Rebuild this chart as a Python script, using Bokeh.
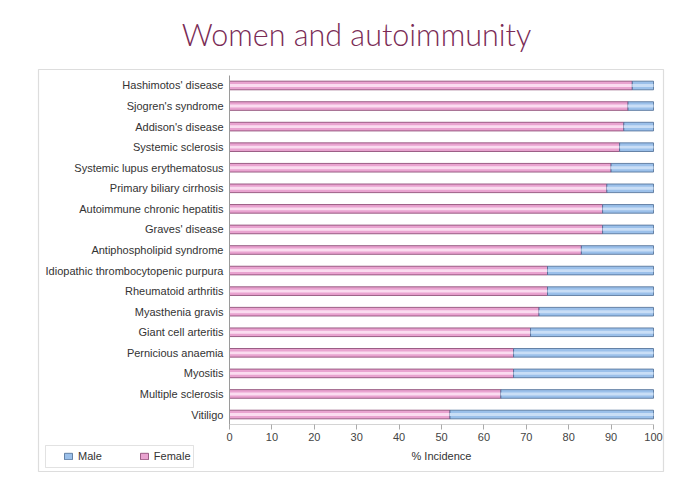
from bokeh.plotting import figure
from bokeh.models import (Range1d, FixedTicker, Label, BoxAnnotation, LinearAxis,
                          Legend, LegendItem, ColumnDataSource)
from bokeh.embed import file_html
from bokeh.resources import INLINE

diseases = [
    "Hashimotos' disease",
    "Sjogren's syndrome",
    "Addison's disease",
    "Systemic sclerosis",
    "Systemic lupus erythematosus",
    "Primary biliary cirrhosis",
    "Autoimmune chronic hepatitis",
    "Graves' disease",
    "Antiphospholipid syndrome",
    "Idiopathic thrombocytopenic purpura",
    "Rheumatoid arthritis",
    "Myasthenia gravis",
    "Giant cell arteritis",
    "Pernicious anaemia",
    "Myositis",
    "Multiple sclerosis",
    "Vitiligo",
]
female = [95, 94, 93, 92, 90, 89, 88, 88, 83, 75, 75, 73, 71, 67, 67, 64, 52]
male = [5, 6, 7, 8, 10, 11, 12, 12, 17, 25, 25, 27, 29, 33, 33, 36, 48]
x_ticks = [0, 10, 20, 30, 40, 50, 60, 70, 80, 90, 100]
title_text = "Women and autoimmunity"
x_title = "% Incidence"
series_names = ["Male", "Female"]

# ---- layout (pixels of the 680x479 canvas, y from top) ----
W, H = 680, 479
AX_L, AX_R = 229.0, 653.0        # x = 0 .. 100
AX_T, AX_B = 74.7, 424.3         # category band top .. bottom
n = len(diseases)
xs = (AX_R - AX_L) / 100.0
ys = (AX_B - AX_T) / n

def px_x(px):
    return (px - AX_L) / xs

def px_y(py):
    return (AX_B - py) / ys - 0.5

ypos = [n - 1 - i for i in range(n)]

src = ColumnDataSource(dict(
    y=ypos,
    female=female,
    male_left=female,
    male_right=[f + m for f, m in zip(female, male)],
    zero=[0] * n,
))

p = figure(width=W, height=H, output_backend="svg", toolbar_location=None,
           x_range=Range1d(px_x(0), px_x(W)), y_range=Range1d(px_y(H), px_y(0)),
           x_axis_location=None, y_axis_location=None,
           min_border=0, min_border_left=0, min_border_right=0,
           min_border_top=0, min_border_bottom=0)
p.outline_line_color = None
p.background_fill_color = "white"
p.border_fill_color = "white"
p.xgrid.grid_line_color = None
p.ygrid.grid_line_color = None

lab_font = "Liberation Sans"

# outer chart box
p.add_layout(BoxAnnotation(left=px_x(38), right=px_x(663), bottom=px_y(471), top=px_y(69),
                           fill_color=None, line_color="#8f8f8f", line_width=1.2,
                           level="underlay"))

# Female bars
rf = p.hbar(y="y", left="zero", right="female", height=0.42, source=src,
            fill_color="#e9a3d0", line_color="#84406c", line_width=0.8)
p.hbar(y="y", left="zero", right="female", height=0.14, source=src,
       fill_color="#fbdcf0", line_color=None)
# Male bars
rm = p.hbar(y="y", left="male_left", right="male_right", height=0.42, source=src,
            fill_color="#9bc0ea", line_color="#4a6a92", line_width=0.8)
p.hbar(y="y", left="male_left", right="male_right", height=0.14, source=src,
       fill_color="#c9def6", line_color=None)

# x axis, drawn at the bottom of the bar band
xa = LinearAxis(fixed_location=-0.5, bounds=(0, 100),
                ticker=FixedTicker(ticks=x_ticks))
xa.axis_line_color = "#d4d4d4"
xa.major_tick_line_color = "#aaaaaa"
xa.major_tick_in = 0
xa.major_tick_out = 5
xa.minor_tick_line_color = None
xa.major_label_text_font = lab_font
xa.major_label_text_font_size = "11px"
xa.major_label_text_color = "#444444"
xa.major_label_standoff = 3
xa.axis_label = x_title
xa.axis_label_text_font = lab_font
xa.axis_label_text_font_size = "11px"
xa.axis_label_text_font_style = "normal"
xa.axis_label_text_color = "#333333"
xa.axis_label_standoff = 6
p.add_layout(xa, "below")

# category axis at x = 0
ya = LinearAxis(fixed_location=0, bounds=(-0.5, n - 0.5),
                ticker=FixedTicker(ticks=ypos),
                major_label_overrides={yy: d for yy, d in zip(ypos, diseases)})
ya.axis_line_color = "#9a9a9a"
ya.major_tick_line_color = None
ya.major_tick_in = 0
ya.major_tick_out = 0
ya.minor_tick_line_color = None
ya.minor_tick_in = 0
ya.minor_tick_out = 0
ya.major_label_text_font = lab_font
ya.major_label_text_font_size = "11px"
ya.major_label_text_color = "#333333"
ya.major_label_standoff = 6
p.add_layout(ya, "left")

# legend box
p.add_layout(BoxAnnotation(left=px_x(45), right=px_x(193), bottom=px_y(467), top=px_y(445),
                           fill_color=None, line_color="#a0a0a0", line_width=1))

legend = Legend(items=[LegendItem(label=series_names[0], renderers=[rm]),
                       LegendItem(label=series_names[1], renderers=[rf])],
                orientation="horizontal", location=(63, H - 463),
                padding=0, margin=0, spacing=37, label_standoff=5,
                glyph_width=10, glyph_height=8, label_height=14,
                label_text_font=lab_font, label_text_font_size="11px",
                label_text_color="#333333",
                border_line_color=None, background_fill_alpha=0)
p.add_layout(legend, "center")

# title
p.add_layout(Label(x=px_x(356), y=px_y(33), text=title_text,
                   text_align="center", text_baseline="alphabetic",
                   text_font="Lato Light", text_font_size="30.5px",
                   text_color="#7a2b55"))

open("out.html", "w").write(file_html(p, INLINE))
